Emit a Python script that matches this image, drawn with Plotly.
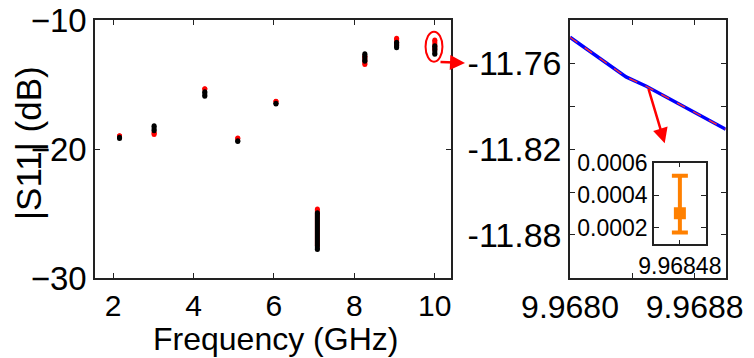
import plotly.graph_objects as go

# ---------------- data ----------------
freq_ghz = [2.16, 3.02, 4.28, 5.10, 6.05, 7.08, 8.26, 9.05, 10.0]
black_top = [-19.08, -18.2, -15.55, -19.35, -16.45, -24.95, -12.62, -11.72, -12.0]
black_bot = [-19.18, -18.58, -15.9, -19.42, -16.5, -27.8, -13.2, -12.15, -12.65]
red_top = [-18.97, -18.72, -15.32, -19.15, -16.3, -24.65, -12.8, -11.42, -11.55]
red_bot = [-19.0, -18.88, -15.35, -19.18, -16.32, -27.5, -13.45, -12.0, -12.3]

zoom_freq = [9.96800, 9.96836, 9.96849, 9.96900]
zoom_blue = [-11.742, -11.7697, -11.7762, -11.8062]
zoom_red = [-11.742, -11.7697, -11.7762, -11.8062]

inset_freq = [9.96848]
inset_val = [0.00029]
inset_err_plus = [0.00023]
inset_err_minus = [0.000117]

left_xticks = [2, 4, 6, 8, 10]
left_yticks = [-30, -20, -10]
right_xtickvals = [9.9680, 9.9684, 9.9688]
right_xticktext = ["9.9680", "", "9.9688"]
right_ytickvals = [-11.91, -11.88, -11.85, -11.82, -11.79, -11.76, -11.73]
right_yticktext = ["", "-11.88", "", "-11.82", "", "-11.76", ""]
inset_yticks = [0.0002, 0.0004, 0.0006]


def segs(xs, tops, bots):
    X, Y = [], []
    for x, t, b in zip(xs, tops, bots):
        X += [x, x, None]
        Y += [t, b, None]
    return X, Y


FONT = "Liberation Sans, Arial, sans-serif"
fig = go.Figure()

rx, ry = segs(freq_ghz, red_top, red_bot)
fig.add_trace(go.Scatter(x=rx, y=ry, mode="lines+markers", xaxis="x", yaxis="y",
                         line=dict(color="#ff0000", width=5),
                         marker=dict(color="#ff0000", size=5), hoverinfo="skip"))
bx, by = segs(freq_ghz, black_top, black_bot)
fig.add_trace(go.Scatter(x=bx, y=by, mode="lines+markers", xaxis="x", yaxis="y",
                         line=dict(color="#000000", width=5),
                         marker=dict(color="#000000", size=5), hoverinfo="skip"))

fig.add_trace(go.Scatter(x=zoom_freq, y=zoom_blue, mode="lines", xaxis="x2", yaxis="y2",
                         line=dict(color="#0000ff", width=3.5)))
fig.add_trace(go.Scatter(x=zoom_freq, y=zoom_red, mode="lines", xaxis="x2", yaxis="y2",
                         line=dict(color="#ff3030", width=1.3, dash="dash")))

fig.add_trace(go.Scatter(x=inset_freq, y=inset_val, mode="markers", xaxis="x3", yaxis="y3",
                         marker=dict(symbol="square", color="#ff8000", size=12),
                         error_y=dict(type="data", array=inset_err_plus,
                                      arrayminus=inset_err_minus, color="#ff8000",
                                      thickness=4, width=8)))

frame = dict(showline=True, linecolor="#222222", linewidth=1.5, mirror="ticks",
             ticks="inside", ticklen=5, tickcolor="#222222", tickwidth=1.2,
             showgrid=False, zeroline=False, automargin=False)

fig.update_layout(
    template="none",
    width=754, height=358,
    margin=dict(l=0, r=0, t=0, b=0),
    paper_bgcolor="white", plot_bgcolor="white",
    showlegend=False,
    font=dict(family=FONT, color="black"),
    xaxis=dict(domain=[0.126, 0.598], range=[1.55, 10.4], tickvals=left_xticks,
               tickfont=dict(size=30), anchor="y", **frame),
    yaxis=dict(domain=[0.2235, 0.944], range=[-30, -10], tickvals=left_yticks,
               tickfont=dict(size=33), anchor="x", **frame),
    xaxis2=dict(domain=[0.756, 0.9625], range=[9.9680, 9.9690], tickvals=right_xtickvals,
                ticktext=right_xticktext, tickfont=dict(size=32), anchor="y2", **frame),
    yaxis2=dict(domain=[0.2235, 0.944], range=[-11.91, -11.73], tickvals=right_ytickvals,
                ticktext=right_yticktext, tickfont=dict(size=34), anchor="x2", **frame),
    xaxis3=dict(domain=[0.8674, 0.936], range=[9.96845, 9.96851], tickvals=inset_freq,
                tickformat=".5f", tickfont=dict(size=23), anchor="y3", **frame),
    yaxis3=dict(domain=[0.3176, 0.5455], range=[0.0001, 0.0006], tickvals=inset_yticks,
                tickformat=".4f", tickfont=dict(size=23), anchor="x3", **frame),
)

# axis titles
fig.add_annotation(text="Frequency (GHz)", xref="paper", yref="paper",
                   x=275 / 754, y=1 - 339 / 358, xanchor="center", yanchor="middle",
                   showarrow=False, font=dict(size=32, family=FONT))
fig.add_annotation(text="|S11| (dB)", xref="paper", yref="paper",
                   x=28 / 754, y=1 - 143 / 358, xanchor="center", yanchor="middle",
                   textangle=-90, showarrow=False, font=dict(size=35, family=FONT))

# red ellipse around the 10 GHz point
fig.add_shape(type="circle", xref="x", yref="y", x0=9.77, x1=10.19, y0=-10.9, y1=-13.23,
              line=dict(color="#ff0000", width=2))
# red arrow from ellipse to zoom panel
fig.add_annotation(x=465 / 754, y=1 - 63 / 358, xref="paper", yref="paper",
                   ax=-26, ay=-1, axref="pixel", ayref="pixel", showarrow=True,
                   arrowhead=2, arrowsize=1.2, arrowwidth=2.5, arrowcolor="#ff0000", text="")
# red arrow in zoom panel pointing to inset
fig.add_annotation(x=9.968608, y=-11.8159, xref="x2", yref="y2",
                   ax=9.968501, ay=-11.7770, axref="x2", ayref="y2", showarrow=True,
                   arrowhead=2, arrowsize=1.2, arrowwidth=2.5, arrowcolor="#ff0000", text="")

fig.write_html("out.html")
